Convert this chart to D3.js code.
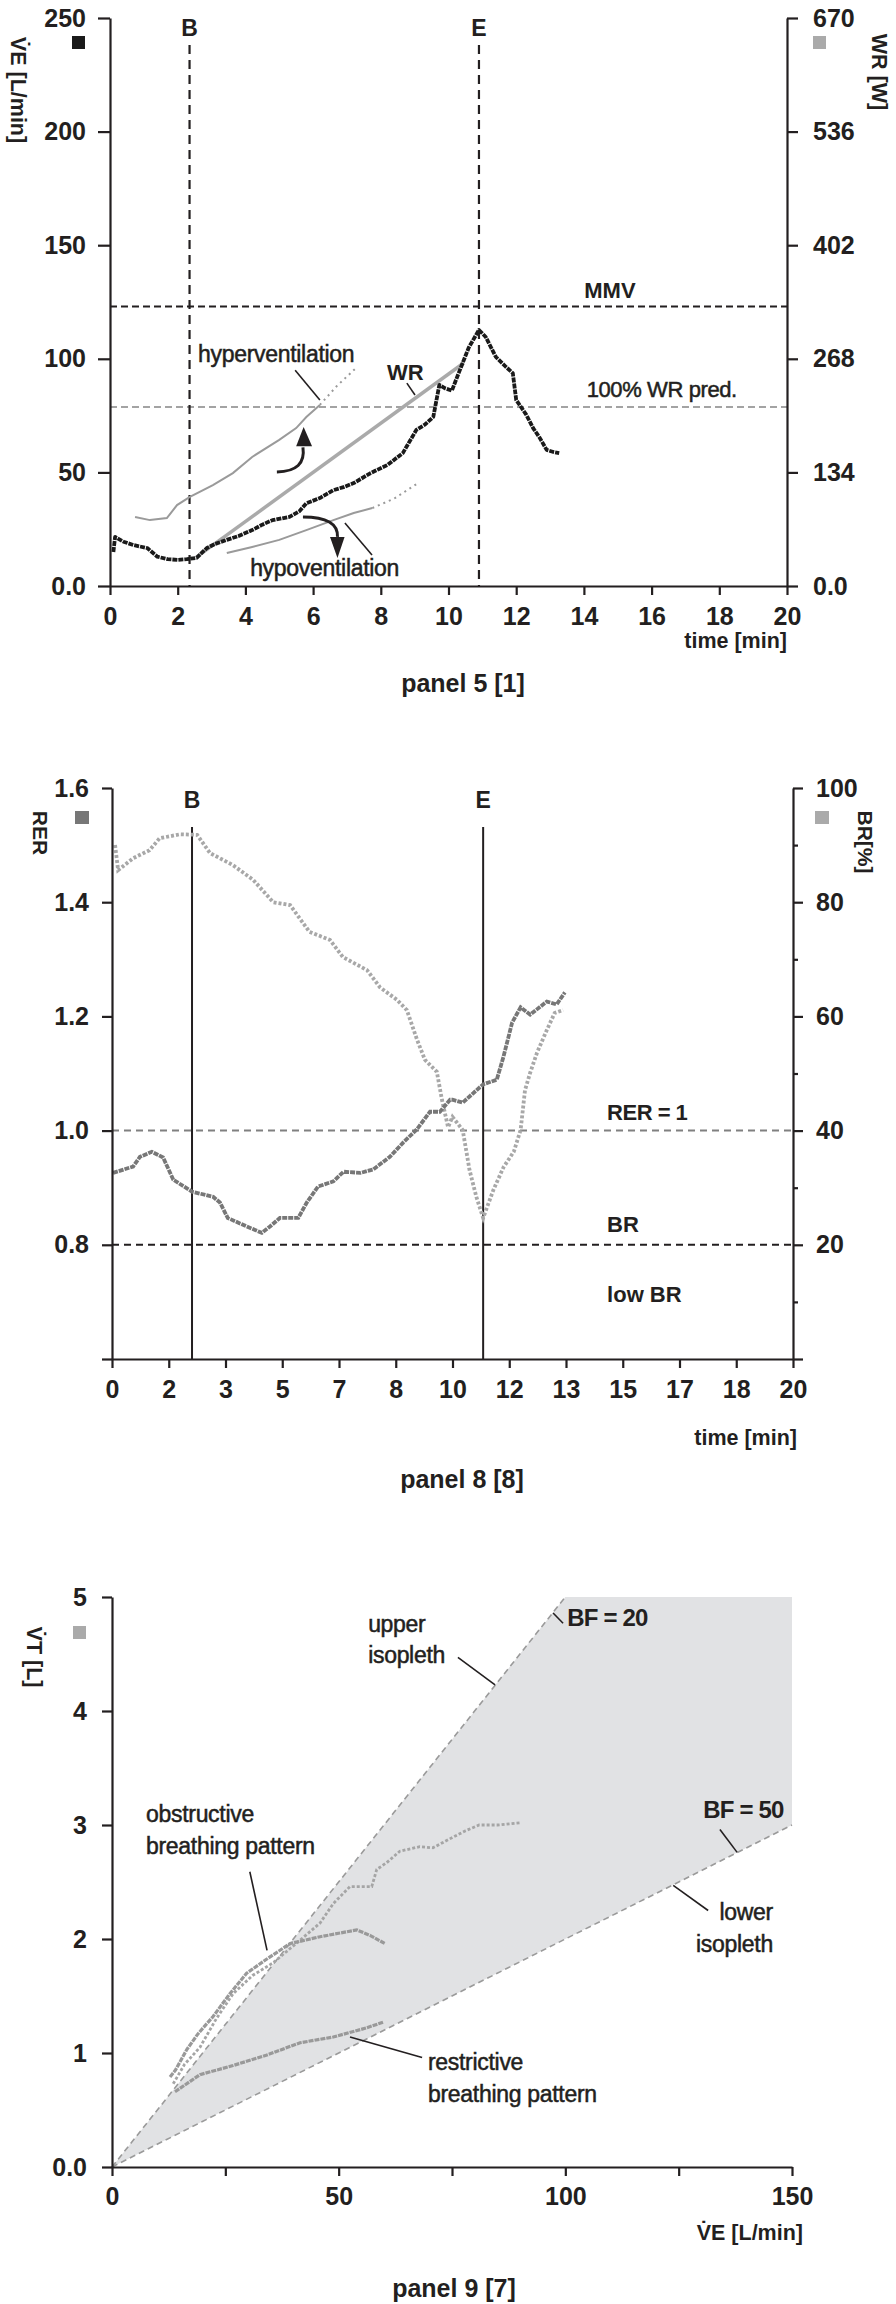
<!DOCTYPE html>
<html>
<head>
<meta charset="utf-8">
<script src="https://cdn.jsdelivr.net/npm/d3@7"></script>
<style>
body { margin: 0; background: #fff; }
</style>
</head>
<body>
<svg id="chart" width="896" height="2304"></svg>
<script>
// ---------- panel 5 [1] : VE and WR over time ----------
const veTime = [0.1, 0.15, 0.4, 0.7, 1.1, 1.4, 1.7, 2.0, 2.27, 2.56, 2.86, 3.1, 3.45, 3.8, 4.2, 4.5, 4.8, 5.3, 5.6, 5.8, 6.2, 6.6, 6.9, 7.2, 7.7, 8.2, 8.65, 9.05, 9.3, 9.55, 9.73, 9.9, 10.1, 10.3, 10.6, 10.9, 11.1, 11.4, 11.7, 11.9, 12.0, 12.3, 12.5, 12.7, 12.9, 13.1, 13.27];
const veValue = [15, 21.6, 19.5, 18, 16.7, 12.9, 11.8, 11.5, 11.8, 12.4, 16.7, 18.5, 20.3, 22, 24.6, 27, 29, 30.4, 33, 36.4, 38.7, 42.2, 43.5, 45.3, 49.7, 53.3, 58.5, 68.7, 71, 74.4, 88.5, 87, 86, 93.7, 105, 112.7, 109.6, 100.8, 96.4, 93.7, 81.9, 75.3, 69.5, 65.1, 59.9, 59, 58.5];
const wrTime = [2.55, 10.45];
const wrWatts = [34, 263];
const hyperTime = [0.74, 1.18, 1.68, 1.98, 2.36, 3.04, 3.63, 4.2, 5.0, 5.5, 5.8, 6.2];
const hyperValue = [30.4, 29, 29.9, 35.6, 39.2, 44.4, 49.7, 56.8, 64.3, 69.5, 74.4, 79.7];
const hyperTailTime = [6.2, 6.7, 7.3];
const hyperTailValue = [79.7, 88, 96.4];
const hypoTime = [3.45, 4.2, 5.0, 5.8, 6.6, 7.2, 7.75];
const hypoValue = [14.5, 17.2, 20.3, 24.6, 29, 32.1, 34.3];
const hypoTailTime = [7.75, 8.4, 9.1];
const hypoTailValue = [34.3, 38.5, 45.3];
const veTicks = [0, 50, 100, 150, 200, 250];
const wrTicks = [0, 134, 268, 402, 536, 670];
const timeTicks1 = [0, 2, 4, 6, 8, 10, 12, 14, 16, 18, 20];
const mmv = 123;          // L/min
const wrPred = 211;       // W
const bTime = 2.35;
const eTime = 10.9;

// ---------- panel 8 [8] : RER and BR over time ----------
const rerTime = [0.03, 0.62, 0.82, 1.17, 1.5, 1.8, 2.35, 2.97, 3.17, 3.4, 3.96, 4.4, 4.64, 4.93, 5.47, 5.72, 6.05, 6.5, 6.8, 7.3, 7.67, 8.16, 8.55, 8.95, 9.34, 9.63, 9.93, 10.0, 10.3, 10.9, 11.3, 11.5, 11.75, 12.0, 12.28, 12.77, 13.06, 13.3];
const rerValue = [0.926, 0.937, 0.954, 0.963, 0.953, 0.914, 0.893, 0.884, 0.874, 0.847, 0.832, 0.821, 0.832, 0.847, 0.847, 0.874, 0.902, 0.911, 0.928, 0.926, 0.932, 0.954, 0.979, 1.002, 1.033, 1.033, 1.054, 1.054, 1.049, 1.081, 1.089, 1.13, 1.189, 1.216, 1.203, 1.226, 1.221, 1.242];
const brTime = [0.09, 0.18, 0.62, 1.1, 1.4, 2.0, 2.5, 2.88, 3.55, 4.15, 4.73, 5.23, 5.8, 6.4, 6.78, 7.49, 7.87, 8.37, 8.66, 8.96, 9.19, 9.54, 9.69, 9.87, 10.0, 10.3, 10.5, 10.7, 10.9, 11.2, 11.5, 11.8, 12.0, 12.13, 12.28, 12.48, 12.77, 13.0, 13.25];
const brValue = [90, 85.6, 87.7, 89.1, 91.2, 91.9, 91.8, 88.6, 86.5, 83.9, 80.0, 79.5, 74.8, 73.4, 70.4, 68.1, 65.1, 62.9, 61.1, 55.9, 52.4, 50.3, 45.4, 40.6, 42.4, 40.1, 33.1, 28.4, 24.7, 29.6, 33.6, 36.3, 40.1, 47.1, 50.1, 53.6, 57.6, 60.6, 61.1];
const rerTicks = [0.6, 0.8, 1.0, 1.2, 1.4, 1.6];
const brTicks = [0, 10, 20, 30, 40, 50, 60, 70, 80, 90, 100];
const timeTicks2 = d3.range(13).map(i => i * 20 / 12);
const rerLimit = 1.0;
const brLimit = 20;
const bTime2 = 2.35;
const eTime2 = 10.9;

// ---------- panel 9 [7] : VT against VE ----------
const obstrVE = [12.8, 14, 16.5, 19, 22.3, 26, 29.7, 34, 39.3, 45.9, 50, 54, 57, 60.2];
const obstrVT = [0.79, 0.85, 1.03, 1.17, 1.32, 1.52, 1.70, 1.82, 1.96, 2.02, 2.05, 2.08, 2.03, 1.96];
const upperVE = [13.5, 16, 19.4, 23, 26.7, 31, 35.5, 41.5, 45.9, 48.8, 52.5, 57.3, 58.4, 60.6, 63.5, 67.9, 70.8, 74.1, 78, 81, 85, 90];
const upperVT = [0.73, 0.9, 1.05, 1.3, 1.52, 1.68, 1.79, 1.99, 2.14, 2.31, 2.46, 2.46, 2.61, 2.67, 2.77, 2.81, 2.80, 2.87, 2.95, 3.0, 3.0, 3.02];
const restrVE = [13.9, 19.4, 26.7, 34, 41.5, 48.8, 56.1, 59.8];
const restrVT = [0.66, 0.81, 0.89, 0.98, 1.09, 1.14, 1.22, 1.27];
const vtTicks = [0, 1, 2, 3, 4, 5];
const veTicks3 = [0, 25, 50, 75, 100, 125, 150];
const bfUpper = 20;
const bfLower = 50;
const veMax = 150;
const vtMax = 5;

const FONT = '"Liberation Sans", Arial, Helvetica, sans-serif';
const INK = "#231f20";
const zip = (a, b) => a.map((d, i) => [d, b[i]]);

const svg = d3.select("#chart");

function styleAxis(g) {
    g.attr("font-family", null).attr("font-size", null);
    g.select(".domain").attr("stroke", INK).attr("stroke-width", 2.2);
    g.selectAll(".tick line").attr("stroke", INK).attr("stroke-width", 2.2);
    g.selectAll(".tick text")
        .attr("font-family", FONT)
        .attr("font-size", 25)
        .attr("font-weight", "bold")
        .attr("fill", INK);
}

function label(g, x, y, str, o) {
    o = o || {};
    const t = g.append("text")
        .attr("x", x).attr("y", y)
        .attr("font-family", FONT)
        .attr("font-size", o.size || 22)
        .attr("font-weight", o.bold ? "bold" : "normal")
        .attr("letter-spacing", o.ls || 0)
        .attr("text-anchor", o.anchor || "start")
        .attr("fill", INK)
        .text(str);
    // scanned original looks a little heavier than plain regular
    if (!o.bold) t.attr("stroke", INK).attr("stroke-width", 0.5);
    if (o.rotate) {
        t.attr("x", 0).attr("y", 0).attr("transform", `translate(${x},${y}) rotate(90)`);
    }
    return t;
}

function leader(g, a, b) {
    g.append("line")
        .attr("x1", a[0]).attr("y1", a[1]).attr("x2", b[0]).attr("y2", b[1])
        .attr("stroke", INK).attr("stroke-width", 1.6);
}

// ================= panel 1 =================
const p1 = svg.append("g");
const x1 = d3.scaleLinear().domain([0, 20]).range([110, 787]);
const y1 = d3.scaleLinear().domain([0, 250]).range([586, 18]);
const y1r = d3.scaleLinear().domain([0, 670]).range([586, 18]);

// reference lines
p1.append("line").attr("x1", x1(0)).attr("x2", x1(20)).attr("y1", y1(mmv)).attr("y2", y1(mmv))
    .attr("stroke", INK).attr("stroke-width", 2).attr("stroke-dasharray", "7,4");
p1.append("line").attr("x1", x1(0)).attr("x2", x1(20)).attr("y1", y1r(wrPred)).attr("y2", y1r(wrPred))
    .attr("stroke", "#a3a3a3").attr("stroke-width", 2).attr("stroke-dasharray", "7,4");
[bTime, eTime].forEach(t => {
    p1.append("line").attr("x1", x1(t)).attr("x2", x1(t)).attr("y1", 45).attr("y2", y1(0))
        .attr("stroke", INK).attr("stroke-width", 2.2).attr("stroke-dasharray", "9,6");
});

const line1 = d3.line().x(d => x1(d[0])).y(d => y1(d[1]));
const line1r = d3.line().x(d => x1(d[0])).y(d => y1r(d[1]));

p1.append("path").datum(zip(hyperTime, hyperValue)).attr("d", line1)
    .attr("fill", "none").attr("stroke", "#9a9a9a").attr("stroke-width", 2);
p1.append("path").datum(zip(hyperTailTime, hyperTailValue)).attr("d", line1)
    .attr("fill", "none").attr("stroke", "#9a9a9a").attr("stroke-width", 2).attr("stroke-dasharray", "2,4");
p1.append("path").datum(zip(hypoTime, hypoValue)).attr("d", line1)
    .attr("fill", "none").attr("stroke", "#9a9a9a").attr("stroke-width", 2);
p1.append("path").datum(zip(hypoTailTime, hypoTailValue)).attr("d", line1)
    .attr("fill", "none").attr("stroke", "#9a9a9a").attr("stroke-width", 2).attr("stroke-dasharray", "2,4");
p1.append("path").datum(zip(wrTime, wrWatts)).attr("d", line1r)
    .attr("fill", "none").attr("stroke", "#aaaaaa").attr("stroke-width", 3.5);
p1.append("path").datum(zip(veTime, veValue)).attr("d", line1)
    .attr("fill", "none").attr("stroke", "#1a1a1a").attr("stroke-width", 3.8)
    .attr("stroke-linejoin", "round").attr("stroke-dasharray", "5,1");

// arrows
const arrowUp = d3.path();
arrowUp.moveTo(x1(4.93), y1(50.2));
arrowUp.quadraticCurveTo(x1(5.8), y1(50.5), x1(5.7), y1(61));
p1.append("path").attr("d", arrowUp.toString()).attr("fill", "none").attr("stroke", INK).attr("stroke-width", 3);
p1.append("path").attr("d", d3.line()([[x1(5.5), y1(61.5)], [x1(5.97), y1(61.5)], [x1(5.72), y1(70)]]) + "Z").attr("fill", INK);
const arrowDown = d3.path();
arrowDown.moveTo(x1(5.7), y1(30.4));
arrowDown.quadraticCurveTo(x1(6.75), y1(30.4), x1(6.72), y1(21.6));
p1.append("path").attr("d", arrowDown.toString()).attr("fill", "none").attr("stroke", INK).attr("stroke-width", 3);
p1.append("path").attr("d", d3.line()([[x1(6.5), y1(21.6)], [x1(6.93), y1(21.6)], [x1(6.72), y1(12.3)]]) + "Z").attr("fill", INK);

// axes
p1.append("g").attr("transform", `translate(0,${y1(0)})`)
    .call(d3.axisBottom(x1).tickValues(timeTicks1).tickSize(9).tickPadding(12).tickSizeOuter(0))
    .call(styleAxis);
p1.append("g").attr("transform", `translate(${x1(0)},0)`)
    .call(d3.axisLeft(y1).tickValues(veTicks).tickFormat(d => d === 0 ? "0.0" : d).tickSize(12).tickPadding(12).tickSizeOuter(0))
    .call(styleAxis);
p1.append("g").attr("transform", `translate(${x1(20)},0)`)
    .call(d3.axisRight(y1r).tickValues(wrTicks).tickFormat(d => d === 0 ? "0.0" : d).tickSize(11).tickPadding(15).tickSizeOuter(0))
    .call(styleAxis);

// labels
p1.append("rect").attr("x", 72).attr("y", 36).attr("width", 13).attr("height", 13).attr("fill", "#1a1a1a");
p1.append("rect").attr("x", 813).attr("y", 36).attr("width", 13).attr("height", 13).attr("fill", "#aaaaaa");
label(p1, 11, 90, "V\u0307E [L/min]", { size: 21.5, bold: true, anchor: "middle", rotate: true });
label(p1, 872, 72, "WR [W]", { size: 21.5, bold: true, anchor: "middle", rotate: true });
label(p1, x1(bTime), 36, "B", { size: 23, bold: true, anchor: "middle" });
label(p1, x1(eTime), 36, "E", { size: 23, bold: true, anchor: "middle" });
label(p1, x1(14.77), y1(126.8), "MMV", { size: 22, bold: true, anchor: "middle" });
label(p1, x1(16.3), y1(83.2), "100% WR pred.", { size: 22, anchor: "middle", ls: -0.4 });
label(p1, x1(2.6), y1(98.6), "hyperventilation", { size: 23, ls: -0.3 });
leader(p1, [x1(5.47), y1(95)], [x1(6.2), y1(81.9)]);
label(p1, x1(4.14), y1(4.4), "hypoventilation", { size: 23, ls: -0.3 });
leader(p1, [x1(6.94), y1(27.7)], [x1(7.74), y1(13.6)]);
label(p1, x1(8.18), y1(90.7), "WR", { size: 22, bold: true });
leader(p1, [x1(8.77), y1(89.3)], [x1(9.01), y1(84.1)]);
label(p1, x1(20), 648, "time [min]", { size: 21.5, bold: true, anchor: "end" });
label(p1, 463, 692, "panel 5 [1]", { size: 25, bold: true, anchor: "middle" });

// ================= panel 2 =================
const p2 = svg.append("g");
const x2 = d3.scaleLinear().domain([0, 20]).range([112, 793]);
const y2 = d3.scaleLinear().domain([0.6, 1.6]).range([1359, 788]);
const y2r = d3.scaleLinear().domain([0, 100]).range([1359, 788]);

p2.append("line").attr("x1", x2(0)).attr("x2", x2(20)).attr("y1", y2(rerLimit)).attr("y2", y2(rerLimit))
    .attr("stroke", "#808080").attr("stroke-width", 2).attr("stroke-dasharray", "7,5");
p2.append("line").attr("x1", x2(0)).attr("x2", x2(20)).attr("y1", y2r(brLimit)).attr("y2", y2r(brLimit))
    .attr("stroke", INK).attr("stroke-width", 2).attr("stroke-dasharray", "7,5");
[bTime2, eTime2].forEach(t => {
    p2.append("line").attr("x1", x2(t)).attr("x2", x2(t)).attr("y1", 827).attr("y2", y2(0.6))
        .attr("stroke", INK).attr("stroke-width", 2);
});

const line2 = d3.line().x(d => x2(d[0])).y(d => y2(d[1]));
const line2r = d3.line().x(d => x2(d[0])).y(d => y2r(d[1]));
p2.append("path").datum(zip(brTime, brValue)).attr("d", line2r)
    .attr("fill", "none").attr("stroke", "#a8a8a8").attr("stroke-width", 3.8).attr("stroke-dasharray", "3,2");
p2.append("path").datum(zip(rerTime, rerValue)).attr("d", line2)
    .attr("fill", "none").attr("stroke", "#777777").attr("stroke-width", 3.8).attr("stroke-dasharray", "5,1");

p2.append("g").attr("transform", `translate(0,${y2(0.6)})`)
    .call(d3.axisBottom(x2).tickValues(timeTicks2).tickFormat(d => Math.round(d)).tickSize(9).tickPadding(12).tickSizeOuter(0))
    .call(styleAxis);
p2.append("g").attr("transform", `translate(${x2(0)},0)`)
    .call(d3.axisLeft(y2).tickValues(rerTicks).tickFormat(d => d === 0.6 ? "" : d.toFixed(1)).tickSize(10).tickPadding(13).tickSizeOuter(0))
    .call(styleAxis);
const brAxis = p2.append("g").attr("transform", `translate(${x2(20)},0)`)
    .call(d3.axisRight(y2r).tickValues(brTicks).tickFormat(d => (d % 20 === 0 && d > 0) ? d : "").tickSize(10).tickPadding(13).tickSizeOuter(0))
    .call(styleAxis);
brAxis.selectAll(".tick line").filter(d => d % 20 !== 0).attr("x2", 5);

p2.append("rect").attr("x", 75).attr("y", 811).attr("width", 14).attr("height", 13).attr("fill", "#777777");
p2.append("rect").attr("x", 815).attr("y", 811).attr("width", 14).attr("height", 13).attr("fill", "#aaaaaa");
label(p2, 33, 833, "RER", { size: 21, bold: true, anchor: "middle", rotate: true });
label(p2, 858, 842, "BR[%]", { size: 21, bold: true, anchor: "middle", rotate: true });
label(p2, x2(bTime2), 808, "B", { size: 23, bold: true, anchor: "middle" });
label(p2, x2(eTime2), 808, "E", { size: 23, bold: true, anchor: "middle" });
label(p2, x2(14.54), y2(1.019), "RER = 1", { size: 22, bold: true, ls: -0.5 });
label(p2, x2(14.54), y2(0.823), "BR", { size: 22, bold: true });
label(p2, x2(14.54), y2(0.70), "low BR", { size: 22, bold: true });
label(p2, 797, 1445, "time [min]", { size: 21.5, bold: true, anchor: "end" });
label(p2, 462, 1488, "panel 8 [8]", { size: 25, bold: true, anchor: "middle" });

// ================= panel 3 =================
const p3 = svg.append("g");
const x3 = d3.scaleLinear().domain([0, veMax]).range([112, 792]);
const y3 = d3.scaleLinear().domain([0, vtMax]).range([2167, 1597]);
const line3 = d3.line().x(d => x3(d[0])).y(d => y3(d[1]));

const zone = [[0, 0], [vtMax * bfUpper, vtMax], [veMax, vtMax], [veMax, veMax / bfLower], [0, 0]];
p3.append("path").datum(zone).attr("d", line3).attr("fill", "#e1e2e4").attr("stroke", "none");
p3.append("path").datum([[0, 0], [vtMax * bfUpper, vtMax]]).attr("d", line3)
    .attr("stroke", "#9a9a9a").attr("stroke-width", 1.6).attr("stroke-dasharray", "6,4").attr("fill", "none");
p3.append("path").datum([[0, 0], [veMax, veMax / bfLower]]).attr("d", line3)
    .attr("stroke", "#9a9a9a").attr("stroke-width", 1.6).attr("stroke-dasharray", "6,4").attr("fill", "none");

p3.append("path").datum(zip(upperVE, upperVT)).attr("d", line3)
    .attr("fill", "none").attr("stroke", "#a5a5a5").attr("stroke-width", 2.8).attr("stroke-dasharray", "3,2");
p3.append("path").datum(zip(obstrVE, obstrVT)).attr("d", line3)
    .attr("fill", "none").attr("stroke", "#999999").attr("stroke-width", 3.2).attr("stroke-dasharray", "5,1");
p3.append("path").datum(zip(restrVE, restrVT)).attr("d", line3)
    .attr("fill", "none").attr("stroke", "#999999").attr("stroke-width", 3.2).attr("stroke-dasharray", "5,1");

p3.append("g").attr("transform", `translate(0,${y3(0)})`)
    .call(d3.axisBottom(x3).tickValues(veTicks3).tickFormat(d => d % 50 === 0 ? d : "").tickSize(9).tickPadding(11).tickSizeOuter(0))
    .call(styleAxis);
p3.append("g").attr("transform", `translate(${x3(0)},0)`)
    .call(d3.axisLeft(y3).tickValues(vtTicks).tickFormat(d => d === 0 ? "0.0" : d).tickSize(10).tickPadding(15).tickSizeOuter(0))
    .call(styleAxis);

p3.append("rect").attr("x", 73).attr("y", 1626).attr("width", 13).attr("height", 13).attr("fill", "#aaaaaa");
label(p3, 27, 1657, "V\u0307T [L]", { size: 21.5, bold: true, anchor: "middle", rotate: true });
label(p3, x3(56.5), y3(4.69), "upper", { size: 23, ls: -0.3 });
label(p3, x3(56.5), y3(4.42), "isopleth", { size: 23, ls: -0.3 });
leader(p3, [x3(76.3), y3(4.47)], [x3(84.5), y3(4.23)]);
label(p3, x3(100.4), y3(4.75), "BF = 20", { size: 24, bold: true, ls: -0.8 });
leader(p3, [x3(97.3), y3(4.86)], [x3(99.5), y3(4.77)]);
label(p3, x3(130.4), y3(3.06), "BF = 50", { size: 24, bold: true, ls: -0.8 });
leader(p3, [x3(134.1), y3(2.96)], [x3(137.9), y3(2.76)]);
label(p3, x3(145.8), y3(2.17), "lower", { size: 23, anchor: "end", ls: -0.3 });
label(p3, x3(145.8), y3(1.89), "isopleth", { size: 23, anchor: "end", ls: -0.3 });
leader(p3, [x3(123.8), y3(2.47)], [x3(131.5), y3(2.25)]);
label(p3, x3(7.5), y3(3.03), "obstructive", { size: 23, ls: -0.3 });
label(p3, x3(7.5), y3(2.75), "breathing pattern", { size: 23, ls: -0.3 });
leader(p3, [x3(30.4), y3(2.59)], [x3(34.2), y3(1.90)]);
label(p3, x3(69.7), y3(0.85), "restrictive", { size: 23, ls: -0.3 });
label(p3, x3(69.7), y3(0.57), "breathing pattern", { size: 23, ls: -0.3 });
leader(p3, [x3(52.5), y3(1.14)], [x3(68.4), y3(0.96)]);
label(p3, 803, 2240, "V\u0307E [L/min]", { size: 21.5, bold: true, anchor: "end" });
label(p3, 454, 2297, "panel 9 [7]", { size: 25, bold: true, anchor: "middle" });
</script>
</body>
</html>
